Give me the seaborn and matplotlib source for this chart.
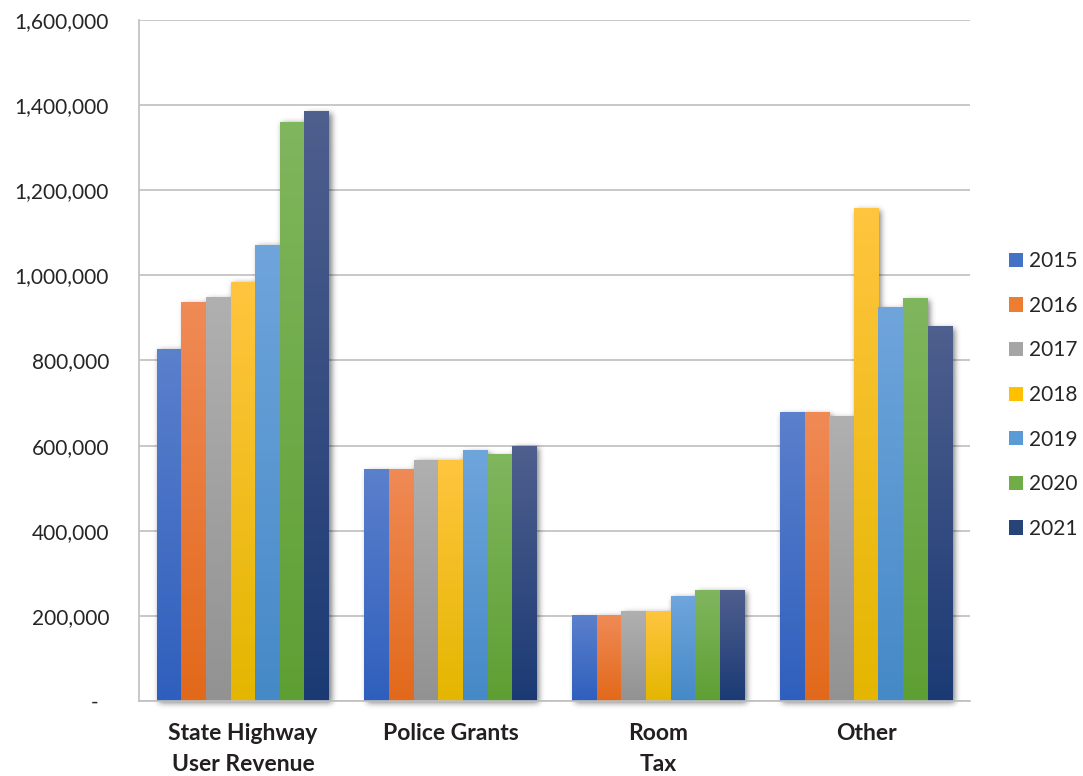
import numpy as np
import pandas as pd
import matplotlib
matplotlib.use("Agg")
import matplotlib.pyplot as plt
from matplotlib.colors import to_rgb
from matplotlib.ticker import FixedLocator, FuncFormatter
import seaborn as sns

# ---- data -------------------------------------------------------------
categories = ["State Highway\nUser Revenue", "Police Grants", "Room\nTax", "Other"]
years = ["2015", "2016", "2017", "2018", "2019", "2020", "2021"]

state_highway = [827000, 936000, 948000, 984000, 1071000, 1360000, 1385000]
police_grants = [543000, 543000, 566000, 566000, 588000, 578000, 598000]
room_tax = [200000, 201000, 211000, 211000, 246000, 260000, 260000]
other = [677000, 677000, 668000, 1157000, 924000, 945000, 879000]

# base colours per year plus the light (top) / dark (bottom) ends of each bar's fill
base_colors = ["#4472C4", "#ED7D31", "#A5A5A5", "#FFC000", "#5B9BD5", "#70AD47", "#264478"]
top_colors = ["#5b80cc", "#f08a56", "#b0b0b0", "#ffc53f", "#6fa5db", "#80b65e", "#4f5f8e"]
bottom_colors = ["#2f5fbd", "#e2691a", "#929292", "#e4b600", "#4589c7", "#5e9f33", "#1b3a74"]

y_ticks = [0, 200000, 400000, 600000, 800000, 1000000, 1200000, 1400000, 1600000]

series = [state_highway, police_grants, room_tax, other]
df = pd.DataFrame(
    [(cat, yr, vals[j]) for cat, vals in zip(categories, series) for j, yr in enumerate(years)],
    columns=["category", "year", "value"],
)

# ---- figure -----------------------------------------------------------
sns.set_theme(style="white")
plt.rcParams["font.family"] = ["Lato", "DejaVu Sans"]

fig = plt.figure(figsize=(10.83, 7.76), dpi=100)
fig.patch.set_facecolor("white")
ax = fig.add_axes([139 / 1083, 1 - 701 / 776, (970 - 139) / 1083, (701 - 20) / 776])

grid_col = "#bfbfbf"
text_col = "#262626"

sns.barplot(
    data=df, x="category", y="value", hue="year", hue_order=years,
    order=categories, palette=base_colors, saturation=1, width=0.83,
    errorbar=None, ax=ax, legend=True, linewidth=0,
)

# vertical gradient inside each bar
grad = np.linspace(0, 1, 256)[:, None, None]
bars_all = []
for j, cont in enumerate(ax.containers):
    c_top = np.array(to_rgb(top_colors[j]))
    c_bot = np.array(to_rgb(bottom_colors[j]))
    img = c_top * (1 - grad) + c_bot * grad
    for p in cont.patches:
        p.set_zorder(2)
        bars_all.append(p)
        x0, w, h = p.get_x(), p.get_width(), p.get_height()
        ax.imshow(img, extent=(x0, x0 + w, 0, h), origin="upper",
                  aspect="auto", zorder=2.1, interpolation="bilinear")

ax.set_xlim(-0.5, len(categories) - 0.5)
ax.set_ylim(0, 1600000)

# soft drop shadow behind the bars
fig.canvas.draw()
bb = ax.get_window_extent()
margin = 14
W = int(round(bb.width)) + 2 * margin
H = int(round(bb.height)) + 2 * margin
ox, oy = bb.x0 - margin, bb.y0 - margin
mask = np.zeros((H, W))
dx, dy = 2.5, 2.0
for p in bars_all:
    (px0, py0), (px1, py1) = ax.transData.transform(
        [[p.get_x(), p.get_y()], [p.get_x() + p.get_width(), p.get_y() + p.get_height()]])
    c0 = int(round(px0 - ox + dx)); c1 = int(round(px1 - ox + dx))
    r0 = int(round(H - (py1 - oy - dy))); r1 = int(round(H - (py0 - oy - dy)))
    mask[max(r0, 0):min(r1, H), max(c0, 0):min(c1, W)] = 1.0
sigma = 3.0
k = np.arange(-10, 11)
kern = np.exp(-k ** 2 / (2 * sigma ** 2)); kern /= kern.sum()
mask = np.apply_along_axis(lambda r: np.convolve(r, kern, mode="same"), 1, mask)
mask = np.apply_along_axis(lambda c: np.convolve(c, kern, mode="same"), 0, mask)
shadow = np.zeros((H, W, 4))
shadow[..., 3] = mask * 0.5
(ex0, ey0), (ex1, ey1) = ax.transData.inverted().transform([[ox, oy], [ox + W, oy + H]])
ax.imshow(shadow, extent=(ex0, ex1, ey0, ey1), origin="upper", aspect="auto",
          zorder=1.5, clip_on=False, interpolation="bilinear")
ax.set_xlim(-0.5, len(categories) - 0.5)
ax.set_ylim(0, 1600000)

# ---- axes styling -----------------------------------------------------
ax.set_facecolor("white")
ax.set_axisbelow(True)
ax.yaxis.grid(True, color=grid_col, linewidth=1.2)
ax.xaxis.grid(False)
for side in ("top", "right"):
    ax.spines[side].set_visible(False)
for side in ("left", "bottom"):
    ax.spines[side].set_color(grid_col)
    ax.spines[side].set_linewidth(1.2)

ax.yaxis.set_major_locator(FixedLocator(y_ticks))
ax.yaxis.set_major_formatter(FuncFormatter(lambda v, _: "-  " if v == 0 else f"{int(v):,}"))
ax.tick_params(axis="y", which="major", direction="out", length=6.5, width=1.2,
               color=grid_col, pad=15, labelsize=15, labelcolor=text_col)

ax.set_xticks(range(len(categories)))
ax.set_xticklabels(categories, fontweight="bold", fontsize=16.5, color="#231f20",
                   linespacing=1.58)
ax.tick_params(axis="x", which="major", length=0, pad=16)
ax.xaxis.set_minor_locator(FixedLocator(np.arange(-0.5, len(categories), 1.0)))
ax.tick_params(axis="x", which="minor", direction="out", length=6, width=1.2, color=grid_col)
for lbl in ax.get_xticklabels():
    lbl.set_verticalalignment("top")

ax.set_xlabel("")
ax.set_ylabel("")

# ---- legend -----------------------------------------------------------
handles, labels = ax.get_legend_handles_labels()
ax.get_legend().remove()
leg = fig.legend(
    handles, labels, loc="center left", bbox_to_anchor=(1009 / 1083, 1 - 395 / 776),
    frameon=False, fontsize=15, handlelength=0.67, handleheight=0.67,
    handletextpad=0.3, labelspacing=1.18, borderaxespad=0, borderpad=0,
)
for t in leg.get_texts():
    t.set_color(text_col)

fig.savefig("out.png", dpi=100, facecolor="white")
